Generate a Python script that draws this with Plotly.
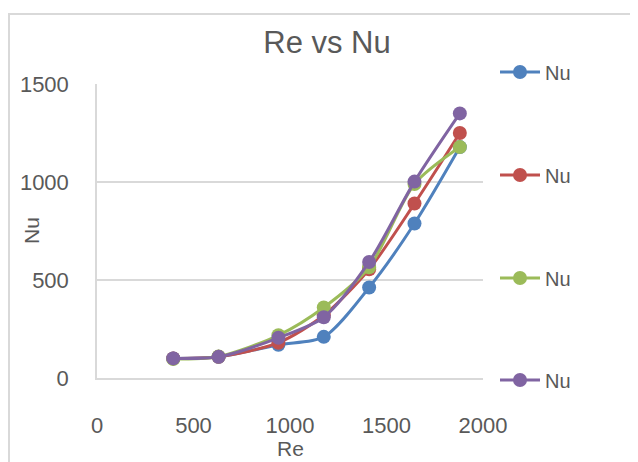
import plotly.graph_objects as go

re_vals = [395, 630, 940, 1175, 1410, 1645, 1880]
nu_blue = [100, 108, 170, 210, 462, 788, 1178]
nu_red = [100, 108, 180, 320, 555, 890, 1250]
nu_green = [97, 110, 218, 360, 565, 990, 1178]
nu_purple = [100, 108, 205, 310, 592, 1002, 1350]
series_names = ["Nu", "Nu", "Nu", "Nu"]
colors = ["#4F81BD", "#C0504D", "#9BBB59", "#8064A2"]

FONT = "Liberation Sans"
GRAY = "#595959"

# page body adds an 8px offset; figure sized to fill the rest of the window
OFF = 8
W, H = 638 - OFF, 462 - OFF
px_left, px_right, px_top, px_bottom = 97 - OFF, 483 - OFF, 84 - OFF, 378 - OFF
L, R, T, B = px_left, W - px_right, px_top, H - px_bottom
PH = H - T - B
PW = W - L - R


def xp(sx):
    return (sx - OFF - L) / PW


def yp(sy):
    return (H - B - (sy - OFF)) / PH


legend_names = ["legend", "legend2", "legend3", "legend4"]
legend_centers = [72, 175, 278, 380]

fig = go.Figure()
for i, (ys, name, col) in enumerate(zip([nu_blue, nu_red, nu_green, nu_purple], series_names, colors)):
    fig.add_trace(go.Scatter(
        x=re_vals, y=ys, name=name, mode="lines+markers",
        line=dict(color=col, width=3, shape="spline", smoothing=0.8),
        marker=dict(color=col, size=14, symbol="circle"),
        legend=legend_names[i],
    ))

legend_cfg = {}
for ln, cy in zip(legend_names, legend_centers):
    legend_cfg[ln] = dict(x=xp(495), y=yp(cy), xanchor="left", yanchor="middle",
                          font=dict(size=20, color=GRAY, family=FONT),
                          itemwidth=40, bgcolor="rgba(0,0,0,0)")

fig.update_layout(
    width=W, height=H,
    margin=dict(l=L, r=R, t=T, b=B, autoexpand=False),
    paper_bgcolor="white", plot_bgcolor="white",
    font=dict(family=FONT, color=GRAY, size=22),
    title=dict(text="Re vs Nu", x=(327 - OFF) / W, xanchor="center",
               y=1 - (42 - OFF) / H, yanchor="middle", yref="container",
               font=dict(size=31, color=GRAY, family=FONT)),
    showlegend=True,
    xaxis=dict(range=[0, 2000], dtick=500, tick0=0, showgrid=False, zeroline=False,
               showline=True, linecolor="#D9D9D9", linewidth=1.5,
               ticks="", ticklabelstandoff=27, automargin=False),
    yaxis=dict(range=[0, 1500], dtick=500, tick0=0, showgrid=True, gridcolor="#D9D9D9",
               gridwidth=1.5, zeroline=False, showline=True, linecolor="#D9D9D9", linewidth=1.5,
               ticks="", ticklabelstandoff=22, automargin=False),
    annotations=[
        dict(text="Re", xref="paper", yref="paper", x=xp(290), y=yp(448),
             xanchor="center", yanchor="middle", showarrow=False,
             font=dict(size=21, color=GRAY, family=FONT)),
        dict(text="Nu", xref="paper", yref="paper", x=xp(31), y=yp(231),
             xanchor="center", yanchor="middle", showarrow=False, textangle=-90,
             font=dict(size=21, color=GRAY, family=FONT)),
    ],
    shapes=[dict(type="rect", xref="paper", yref="paper",
                 x0=xp(9), x1=3, y0=-2, y1=yp(14),
                 line=dict(color="#D9D9D9", width=2), fillcolor="rgba(0,0,0,0)", layer="below")],
    **legend_cfg,
)

fig.write_html("out.html")
